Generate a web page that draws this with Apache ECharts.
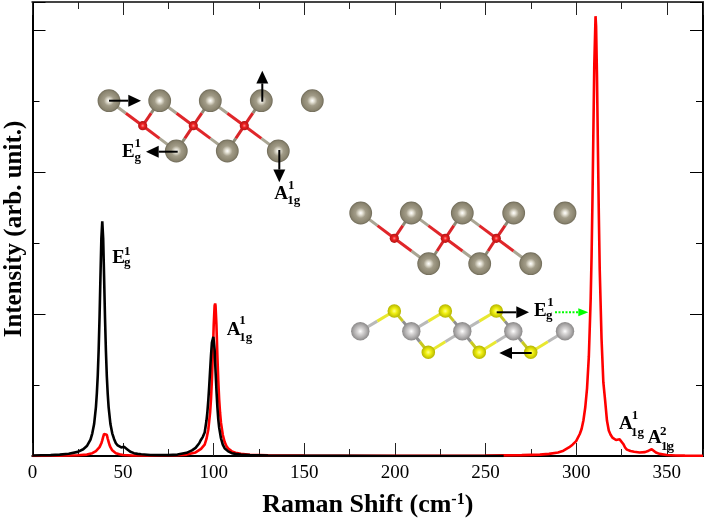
<!DOCTYPE html>
<html>
<head>
<meta charset="utf-8">
<title>Raman</title>
<script src="https://cdn.jsdelivr.net/npm/echarts@6/dist/echarts.min.js"></script>
<style>
html, body { margin: 0; padding: 0; background: #fff; }
#main { width: 706px; height: 518px; }
</style>
</head>
<body>
<div id="main"></div>
<script>
/*************** data **************/
var blackShift = [0,5,10,15,20,25,28,30,32,33,34,35,35.5,36,36.5,37,37.5,38,38.5,39,39.5,40,40.5,41,41.5,42,43,44,45,46,47,48,49,50,50.5,51,52,53,54,56,58,60,65,70,75,80,85,88,90,92,93,94,95,96,96.5,97,97.5,98,98.5,99,99.8,100.5,101,101.5,102,102.5,103,104,105,106,107,108,110,112,115,120,130,150,170,200,260];
var blackIntensity = [.007,.01,.013,.019,.031,.058,.095,.14,.23,.32,.45,.69,.88,1.13,1.49,1.96,2.53,3.07,3.31,3.07,2.53,1.96,1.49,1.13,.88,.69,.45,.32,.24,.18,.15,.13,.12,.125,.13,.125,.10,.08,.06,.04,.03,.025,.015,.012,.013,.02,.045,.08,.115,.18,.23,.27,.33,.5,.62,.78,.98,1.2,1.42,1.6,1.68,1.5,1.2,.93,.7,.52,.4,.25,.16,.11,.085,.065,.04,.03,.02,.012,.006,.003,.002,.001,.001];

var redShift = [0,10,20,25,30,33,35,36,37,38,38.5,39,39.5,40,40.3,40.5,41,41.5,42,42.5,43,44,45,46,48,50,55,60,70,80,85,90,93,95,96,97,98,98.5,99,99.5,100,100.5,100.8,101,101.5,102,102.5,103,103.5,104,105,106,107,108,110,112,115,120,130,150,200,250,270,280,285,290,293,296,298,300,302,303,304,305,306,307,308,308.5,309,309.5,310,310.7,311,311.5,312,312.5,313,314,315,316,317,318,319,320,321,322,323,324,324.7,325,326,327,328,330,332,335,338,340,341,341.7,342.5,344,346,350,355,360,370];
var redIntensity = [0,.003,.006,.01,.02,.04,.07,.09,.125,.18,.22,.27,.31,.335,.34,.335,.3,.245,.2,.155,.125,.08,.055,.04,.025,.015,.008,.006,.006,.01,.02,.05,.1,.16,.24,.37,.61,.8,1.07,1.43,1.85,2.12,2.15,2.12,1.85,1.43,1.07,.8,.61,.47,.3,.2,.14,.105,.065,.045,.03,.018,.01,.005,.003,.006,.012,.02,.03,.05,.075,.12,.16,.21,.31,.38,.5,.68,.95,1.4,2.2,2.8,3.6,4.56,5.5,6.2,6.06,5.35,4.36,3.43,2.64,1.66,1.04,.78,.5,.36,.3,.26,.235,.225,.23,.235,.235,.225,.17,.12,.09,.07,.06,.05,.055,.075,.09,.095,.085,.05,.03,.015,.008,.005,.003];

function zip(xs, ys) {
	return xs.map(function (x, i) { return [x, ys[i]]; });
}

/*************** crystal sketches, page pixels **************/
var SERIF = '"Liberation Serif", "Times New Roman", serif';

var upperTop = [[109,100.7],[159.7,100.7],[210.3,100.7],[261.3,100.7],[312.3,100.7]];
var upperBottom = [[176.3,151],[227.3,151],[278.3,151]];
var upperRed = [[142.7,125.7],[193.3,125.7],[244.3,125.7]];

var middleTop = [[360.7,213],[411.3,213],[462.3,213],[513.7,213],[565,213]];
var middleBottom = [[428.7,263.7],[479.7,263.7],[530.7,263.7]];
var middleRed = [[394.3,238.3],[445.3,238.3],[496.3,238.3]];

var lowerGrey = [[360.3,331.3],[411.3,331.3],[462.3,331.3],[513.3,331.3],[565,331.3]];
var lowerYellowTop = [[394.3,311],[445.3,311],[496.3,311]];
var lowerYellowBottom = [[428.3,352.3],[479.3,352.3],[530.7,352.3]];

var els = [];

function bond(a, b, colA, colB) {
	var mx = (a[0] + b[0]) / 2, my = (a[1] + b[1]) / 2;
	els.push({type: 'line', shape: {x1: a[0], y1: a[1], x2: mx, y2: my}, style: {stroke: colA, lineWidth: 3}});
	els.push({type: 'line', shape: {x1: mx, y1: my, x2: b[0], y2: b[1]}, style: {stroke: colB, lineWidth: 3}});
}

function atom(p, r, stops) {
	els.push({
		type: 'circle',
		shape: {cx: p[0], cy: p[1], r: r},
		style: {fill: new echarts.graphic.RadialGradient(0.5, 0.5, 0.5, stops)}
	});
}

var tan = [{offset: 0, color: '#ffffff'}, {offset: 0.18, color: '#e2dfd2'}, {offset: 0.45, color: '#a29c88'}, {offset: 0.85, color: '#8a846f'}, {offset: 1, color: '#6f6a58'}];
var red = [{offset: 0, color: '#ff9090'}, {offset: 0.4, color: '#ee2020'}, {offset: 1, color: '#b01414'}];
var grey = [{offset: 0, color: '#ffffff'}, {offset: 0.3, color: '#d8d6d6'}, {offset: 0.7, color: '#aeacac'}, {offset: 1, color: '#8a8888'}];
var yellow = [{offset: 0, color: '#ffff90'}, {offset: 0.4, color: '#f0f010'}, {offset: 1, color: '#b4b400'}];

function oxideLayer(top, bottom, mid) {
	mid.forEach(function (m, i) {
		bond(top[i], m, '#a9a593', '#e0262a');
		bond(top[i + 1], m, '#8d8874', '#d92428');
		bond(bottom[i], m, '#a9a593', '#e0262a');
		if (i > 0) bond(bottom[i - 1], m, '#8d8874', '#d92428');
	});
	top.concat(bottom).forEach(function (p) { atom(p, 11.4, tan); });
	mid.forEach(function (p) { atom(p, 4.6, red); });
}

function sulfideLayer(g, yTop, yBottom) {
	yTop.forEach(function (y, i) {
		bond(g[i], y, '#b9b9b9', '#e8e830');
		bond(g[i + 1], y, '#8f8f8f', '#c8c820');
	});
	yBottom.forEach(function (y, i) {
		bond(g[i + 1], y, '#8f8f8f', '#c8c820');
		bond(g[i + 2], y, '#b9b9b9', '#e8e830');
	});
	g.forEach(function (p) { atom(p, 9.2, grey); });
	yTop.concat(yBottom).forEach(function (p) { atom(p, 6.8, yellow); });
}

function arrow(x1, y1, x2, y2, color, w, headL, headW, dash) {
	var len = Math.sqrt((x2 - x1) * (x2 - x1) + (y2 - y1) * (y2 - y1));
	var ux = (x2 - x1) / len, uy = (y2 - y1) / len;
	var bx = x2 - ux * headL, by = y2 - uy * headL;
	els.push({type: 'line', shape: {x1: x1, y1: y1, x2: bx, y2: by}, style: {stroke: color, lineWidth: w, lineDash: dash || null}});
	els.push({type: 'polygon', shape: {points: [[x2, y2], [bx - uy * headW, by + ux * headW], [bx + uy * headW, by - ux * headW]]}, style: {fill: color}});
}

// text is placed by its top edge, so step up from the wanted baseline
function word(text, x, base, size) {
	els.push({type: 'text', x: x, y: base - size * 0.88, style: {text: text, fill: '#000', font: 'bold ' + size + 'px ' + SERIF}});
}

function label(text, x, y, supText, supX, supY, subText, subX, subY) {
	word(text, x, y, 19);
	word(supText, supX, supY, 13);
	word(subText, subX, subY, 13);
}

oxideLayer(upperTop, upperBottom, upperRed);
oxideLayer(middleTop, middleBottom, middleRed);
sulfideLayer(lowerGrey, lowerYellowTop, lowerYellowBottom);

arrow(109, 100.7, 141, 100.7, '#000', 2, 12.7, 6);
arrow(177.7, 151.7, 146, 151.7, '#000', 2, 12.7, 6);
arrow(262.3, 101.7, 262.3, 70.7, '#000', 2, 12.7, 6);
arrow(279.3, 150, 279.3, 182.3, '#000', 2, 12.7, 6);
arrow(496.7, 312.3, 529, 312.3, '#000', 2, 12.7, 6);
arrow(531.7, 353, 499.3, 353, '#000', 2, 12.7, 6);
arrow(555, 312.3, 588.3, 312.3, '#00ff00', 2, 10, 4, [2, 1.5]);

label('E', 122, 159.3, '1', 134.5, 149, 'g', 134.5, 162.7);
label('A', 274.3, 201, '1', 288, 190.7, '1g', 287.3, 206);
label('E', 112.3, 265, '1', 124, 256.7, 'g', 124, 268);
label('A', 226.7, 337.3, '1', 239.3, 326, '1g', 239.3, 342.7);
label('E', 534, 318.3, '1', 547.3, 307.3, 'g', 546, 320.7);
label('A', 619, 431, '1', 631.7, 420.7, '1g', 631, 437.3);
label('A', 647.7, 445, '2', 660, 436.7, '1g', 661, 451.7);

/*************** axes: long and short ticks on all four sides **************/
function xAxisOf(position, interval, tickLen, withLabel) {
	return {
		type: 'value', position: position, min: 0, max: 370, interval: interval,
		axisLine: {show: true, onZero: false, lineStyle: {color: position == 'top' ? '#444' : '#000', width: 2}},
		axisTick: {show: true, inside: true, length: tickLen, lineStyle: {color: '#222', width: 1}},
		axisLabel: {show: withLabel, showMaxLabel: false, margin: 8, color: '#000', fontSize: 19, fontFamily: SERIF},
		splitLine: {show: false},
		name: withLabel ? '{a|Raman Shift (cm}{b|-1}{a|)}' : '',
		nameLocation: 'middle', nameGap: 36,
		nameTextStyle: {rich: {
			a: {fontFamily: SERIF, fontWeight: 'bold', fontSize: 26, color: '#000'},
			b: {fontFamily: SERIF, fontWeight: 'bold', fontSize: 16, color: '#000', verticalAlign: 'top', padding: [0, 0, 8, 0]}
		}}
	};
}

function yAxisOf(position, interval, tickLen, withName) {
	return {
		type: 'value', position: position, min: 0, max: 6.4, interval: interval,
		axisLine: {show: true, onZero: false, lineStyle: {color: '#000', width: 2}},
		axisTick: {show: true, inside: true, length: tickLen, lineStyle: {color: '#000', width: 1}},
		axisLabel: {show: false},
		splitLine: {show: false},
		name: withName ? 'Intensity (arb. unit.)' : '',
		nameLocation: 'middle', nameGap: 5,
		nameTextStyle: {fontFamily: SERIF, fontWeight: 'bold', fontSize: 25, color: '#000'}
	};
}

var chart = echarts.init(document.getElementById('main'), null, {renderer: 'canvas'});
chart.setOption({
	animation: false,
	backgroundColor: '#fff',
	grid: {left: 32.5, right: 3, top: 2, bottom: 62, outerBoundsMode: 'none'},
	xAxis: [
		xAxisOf('bottom', 50, 13, true),
		xAxisOf('bottom', 25, 7, false),
		xAxisOf('top', 50, 13, false),
		xAxisOf('top', 25, 7, false)
	],
	yAxis: [
		yAxisOf('left', 2, 13, true),
		yAxisOf('left', 1, 7, false),
		yAxisOf('right', 2, 13, false),
		yAxisOf('right', 1, 7, false)
	],
	series: [
		{
			type: 'line', data: zip(redShift, redIntensity), showSymbol: false, silent: true,
			lineStyle: {color: '#ff0000', width: 2.6}, z: 2
		},
		{
			type: 'line', data: zip(blackShift, blackIntensity), showSymbol: false, silent: true,
			lineStyle: {color: '#000000', width: 2.6}, z: 3
		}
	],
	graphic: {elements: [{type: 'group', silent: true, z: 10, children: els}]}
});
</script>
</body>
</html>
